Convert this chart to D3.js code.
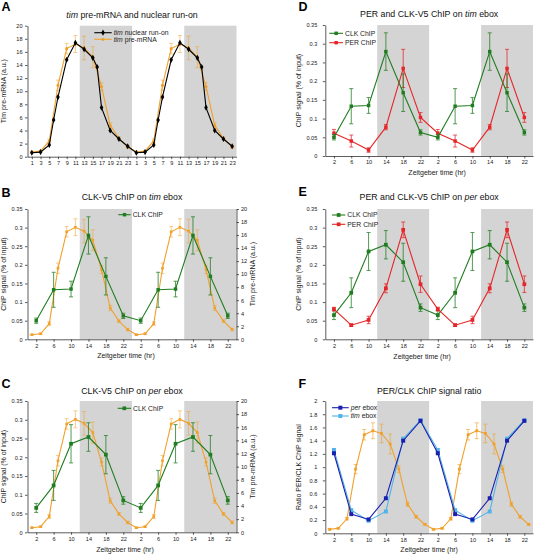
<!DOCTYPE html>
<html><head><meta charset="utf-8">
<script src="https://cdn.jsdelivr.net/npm/d3@7"></script>
<style>body{margin:0;background:#fff} svg{display:block} text{font-family:"Liberation Sans",Arial,sans-serif}</style>
</head><body><svg id="c" width="534" height="555"></svg>
<script>
// ---------- DATA (one day; the figure is double-plotted) ----------
const days = [0, 24];
const xTicksA = [1,3,5,7,9,11,13,15,17,19,21,23];
const xTicksChIP = [2,6,10,14,18,22];

const runOnZT = [1,3,5,6,7,9,11,13,15,16,17,19,21,23];
const runOn   = [0.6,0.7,1.8,5.6,9.1,14.8,17.4,16.4,15.1,13.7,7.5,4.0,2.7,1.6];

const preZT     = [1,3,5,7,9,11,13,15,17,19,21,23];
const preMRNA   = [0.7,0.85,2.4,10.9,16.5,17.2,16.6,15.2,10.7,4.8,2.8,1.5];
const preMRNAErr= [0.1,0.1,0.3,0.8,0.8,1.3,1.8,1.6,0.6,0.4,0.2,0.2];

const chipZT    = [2,6,10,14,18,22];
const clkTim    = [0.050,0.133,0.135,0.279,0.169,0.063];
const clkTimErr = [0.007,0.047,0.021,0.050,0.050,0.007];
const perTim    = [0.061,0.040,0.016,0.077,0.234,0.103];
const perTimErr = [0.010,0.016,0.006,0.007,0.051,0.013];
const clkPer    = [0.065,0.125,0.236,0.254,0.207,0.085];
const clkPerErr = [0.012,0.040,0.051,0.038,0.051,0.010];
const perPer    = [0.081,0.038,0.052,0.137,0.294,0.148];
const perPerErr = [0.005,0.003,0.010,0.012,0.021,0.022];

const ratioPer  = [1.21,0.29,0.21,0.53,1.40,1.70];
const ratioTim  = [1.26,0.35,0.19,0.33,1.43,1.71];
const preRatio    = [0.06,0.075,0.22,0.97,1.49,1.55,1.51,1.35,0.97,0.44,0.25,0.135];
const preRatioErr = [0.01,0.01,0.02,0.07,0.08,0.12,0.14,0.15,0.05,0.03,0.02,0.01];

// ---------- STYLE ----------
const C = {orange:'#f0a12c', green:'#1f7d1f', red:'#e52528', black:'#000', dblue:'#1a20ae', lblue:'#52b3e8', gray:'#d4d4d4'};
const svg = d3.select('#c');
const fmt = d => String(+d.toFixed(2));

function richText(g, parts) {
  parts.forEach(p => {
    const t = g.append('tspan').text(p[0]);
    if (p[1]) t.attr('font-style', 'italic');
  });
}

function makePanel(o) {
  const g = svg.append('g');
  const x = d3.scaleLinear().domain([0,48]).range([o.x0,o.x1]);
  const y = d3.scaleLinear().domain([0,o.ymax]).range([o.y1,o.y0]);
  [12,36].forEach(s => g.append('rect').attr('x',x(s)).attr('y',o.y0)
      .attr('width',x(s+12)-x(s)).attr('height',o.y1-o.y0).attr('fill',C.gray));
  // x axis
  const xt = [];
  days.forEach(dd => o.xticks.forEach(t => xt.push(t+dd)));
  const ax = g.append('g').attr('transform',`translate(0,${o.y1})`)
    .call(d3.axisBottom(x).tickValues(xt).tickFormat(d => d%24).tickSize(2.5).tickSizeOuter(0).tickPadding(2));
  // y axis
  const yt = d3.range(0, o.ymax+1e-9, o.ystep);
  const ay = g.append('g').attr('transform',`translate(${o.x0},0)`)
    .call(d3.axisLeft(y).tickValues(yt).tickFormat(fmt).tickSize(2.5).tickSizeOuter(0).tickPadding(o.ypad));
  [ax, ay].forEach(a => {
    a.selectAll('text').attr('font-size',5.6).attr('fill','#222').attr('font-family','"Liberation Sans",Arial,sans-serif');
    a.selectAll('path,line').attr('stroke','#333').attr('stroke-width',0.8);
  });
  ax.selectAll('text').attr('dy','0.71em');
  if (o.y2max) {
    const y2 = d3.scaleLinear().domain([0,o.y2max]).range([o.y1,o.y0]);
    const ar = g.append('g').attr('transform',`translate(${o.x1},0)`)
      .call(d3.axisRight(y2).tickValues(d3.range(0,o.y2max+1e-9,2)).tickSize(2.5).tickSizeOuter(0).tickPadding(2));
    ar.selectAll('text').attr('font-size',5.6).attr('fill','#222').attr('font-family','"Liberation Sans",Arial,sans-serif');
    ar.selectAll('path,line').attr('stroke','#333').attr('stroke-width',0.8);
    o.y2 = y2;
    g.append('text').attr('transform',`translate(${o.x1+18},${(o.y0+o.y1)/2}) rotate(-90)`)
      .attr('text-anchor','middle').attr('font-size',7).attr('fill','#222').text('Tim pre-mRNA (a.u.)');
  }
  // panel letter
  g.append('text').attr('x',o.lx).attr('y',o.ly).attr('font-size',12.5).attr('font-weight','bold').text(o.letter);
  // title
  richText(g.append('text').attr('x',(o.x0+o.x1)/2).attr('y',o.ty).attr('text-anchor','middle')
    .attr('font-size',8.8).attr('fill','#111'), o.title);
  // y title
  g.append('text').attr('transform',`translate(${o.ytx},${(o.y0+o.y1)/2}) rotate(-90)`)
    .attr('text-anchor','middle').attr('font-size',7).attr('fill','#222').text(o.ytitle);
  if (o.xtitle) g.append('text').attr('x',(o.x0+o.x1)/2 + (o.xtdx||0)).attr('y',o.xty).attr('text-anchor','middle')
    .attr('font-size',7).attr('fill','#222').text(o.xtitle);
  o.g = g; o.x = x; o.y = y;
  return o;
}

function series(p, yscale, zts, vals, errs, color, sym, size, opts={}) {
  const pts = [];
  days.forEach(dd => zts.forEach((z,i) => pts.push({zt:z+dd, v:vals[i], e: errs ? errs[i] : 0})));
  const g = p.g.append('g');
  const line = d3.line().x(d => p.x(d.zt)).y(d => yscale(d.v));
  g.append('path').attr('d', line(pts)).attr('fill','none').attr('stroke',color).attr('stroke-width',opts.lw||1.1);
  if (errs) {
    pts.forEach(d => {
      const cx = p.x(d.zt), t = yscale(d.v+d.e), b = yscale(d.v-d.e);
      const eg = g.append('g').attr('stroke',color).attr('stroke-width',0.9).attr('opacity',opts.eo||0.85);
      eg.append('line').attr('x1',cx).attr('x2',cx).attr('y1',t).attr('y2',b);
      eg.append('line').attr('x1',cx-2).attr('x2',cx+2).attr('y1',t).attr('y2',t);
      eg.append('line').attr('x1',cx-2).attr('x2',cx+2).attr('y1',b).attr('y2',b);
    });
  }
  const s = d3.symbol().type(sym).size(size);
  g.selectAll('path.m').data(pts).join('path').attr('class','m')
    .attr('transform', d => `translate(${p.x(d.zt)},${yscale(d.v)})`).attr('d', s()).attr('fill',color);
}

function legend(p, lx0, lx1, ly, color, sym, size, parts) {
  const g = p.g.append('g');
  g.append('line').attr('x1',lx0).attr('x2',lx1).attr('y1',ly).attr('y2',ly).attr('stroke',color).attr('stroke-width',1.1);
  g.append('path').attr('transform',`translate(${(lx0+lx1)/2},${ly})`).attr('d',d3.symbol().type(sym).size(size)()).attr('fill',color);
  richText(g.append('text').attr('x',lx1+2).attr('y',ly+2.3).attr('font-size',6.8).attr('fill','#222'), parts);
}

const L = {x0:27.5, x1:236.5, ytx:6, ypad:2.5, lx:1.5};
const R = {x0:325.3, x1:533, ytx:301, ypad:5.5, lx:298.5};
const chipY = {ymax:0.35, ystep:0.05};
const XT = 'Zeitgeber time (hr)';

// ---------- A ----------
const A = makePanel({...L, y0:25.7, y1:156.7, ymax:20, ystep:2, xticks:xTicksA, letter:'A', ly:10.5, ty:17.5,
  title:[['tim',1],[' pre-mRNA and nuclear run-on']], ytitle:'Tim pre-mRNA (a.u.)'});
series(A, A.y, preZT, preMRNA, preMRNAErr, C.orange, d3.symbolCircle, 8, {eo:0.6});
series(A, A.y, runOnZT, runOn, null, C.black, d3.symbolDiamond, 11);
legend(A, 94.3, 111.7, 32.7, C.black, d3.symbolDiamond, 11, [['tim',1],[' nuclear run-on']]);
legend(A, 94.3, 111.7, 39.3, C.orange, d3.symbolCircle, 8, [['tim',1],[' pre-mRNA']]);

// ---------- B ----------
const B = makePanel({...L, ...chipY, y0:209, y1:339.3, y2max:20, xticks:xTicksChIP, letter:'B', ly:197, ty:200,
  title:[['CLK-V5 ChIP on '],['tim',1],[' ebox']], ytitle:'ChIP signal (% of input)', xtitle:XT, xty:358, xtdx:-6});
series(B, B.y2, preZT, preMRNA, preMRNAErr, C.orange, d3.symbolSquare, 7, {eo:0.6});
series(B, B.y, chipZT, clkTim, clkTimErr, C.green, d3.symbolSquare, 12);
legend(B, 118.3, 130.7, 214.7, C.green, d3.symbolSquare, 12, [['CLK ChIP']]);

// ---------- C ----------
const Cp = makePanel({...L, ...chipY, y0:401, y1:532.3, y2max:20, xticks:xTicksChIP, letter:'C', ly:388, ty:394,
  title:[['CLK-V5 ChIP on '],['per',1],[' ebox']], ytitle:'ChIP signal (% of input)', xtitle:XT, xty:552, xtdx:-7});
series(Cp, Cp.y2, preZT, preMRNA, preMRNAErr, C.orange, d3.symbolSquare, 7, {eo:0.6});
series(Cp, Cp.y, chipZT, clkPer, clkPerErr, C.green, d3.symbolSquare, 14);
legend(Cp, 117.7, 131, 408.3, C.green, d3.symbolSquare, 14, [['CLK ChIP']]);

// ---------- D ----------
const D = makePanel({...R, ...chipY, y0:25, y1:156, xticks:xTicksChIP, letter:'D', ly:10.5, ty:17,
  title:[['PER and CLK-V5 ChIP on '],['tim',1],[' ebox']], ytitle:'ChIP signal (% of input)', xtitle:XT, xty:175, xtdx:8});
series(D, D.y, chipZT, perTim, perTimErr, C.red, d3.symbolSquare, 12);
series(D, D.y, chipZT, clkTim, clkTimErr, C.green, d3.symbolSquare, 12);
legend(D, 329.3, 343, 33.3, C.green, d3.symbolSquare, 12, [['CLK ChIP']]);
legend(D, 329.3, 343, 42.7, C.red, d3.symbolSquare, 12, [['PER ChIP']]);

// ---------- E ----------
const E = makePanel({...R, ...chipY, y0:209, y1:339.3, xticks:xTicksChIP, letter:'E', ly:195.5, ty:200,
  title:[['PER and CLK-V5 ChIP on '],['per',1],[' ebox']], ytitle:'ChIP signal (% of input)', xtitle:XT, xty:359, xtdx:-7});
series(E, E.y, chipZT, clkPer, clkPerErr, C.green, d3.symbolSquare, 14);
series(E, E.y, chipZT, perPer, perPerErr, C.red, d3.symbolSquare, 14);
legend(E, 332, 345.3, 215, C.green, d3.symbolSquare, 14, [['CLK ChIP']]);
legend(E, 332, 345.3, 224.3, C.red, d3.symbolSquare, 14, [['PER ChIP']]);

// ---------- F ----------
const F = makePanel({...R, y0:401, y1:533.3, ymax:2, ystep:0.2, xticks:xTicksChIP, letter:'F', ly:388, ty:394,
  title:[['PER/CLK ChIP signal ratio']], ytitle:'Ratio PER/CLK ChIP signal', xtitle:XT, xty:552});
series(F, F.y, preZT, preRatio, preRatioErr, C.orange, d3.symbolSquare, 8, {eo:0.7});
series(F, F.y, chipZT, ratioTim, null, C.lblue, d3.symbolSquare, 16);
series(F, F.y, chipZT, ratioPer, null, C.dblue, d3.symbolSquare, 16);
legend(F, 332, 348.7, 407.7, C.dblue, d3.symbolSquare, 16, [['per',1],[' ebox']]);
legend(F, 332, 348.7, 416, C.lblue, d3.symbolSquare, 16, [['tim',1],[' ebox']]);
</script></body></html>
